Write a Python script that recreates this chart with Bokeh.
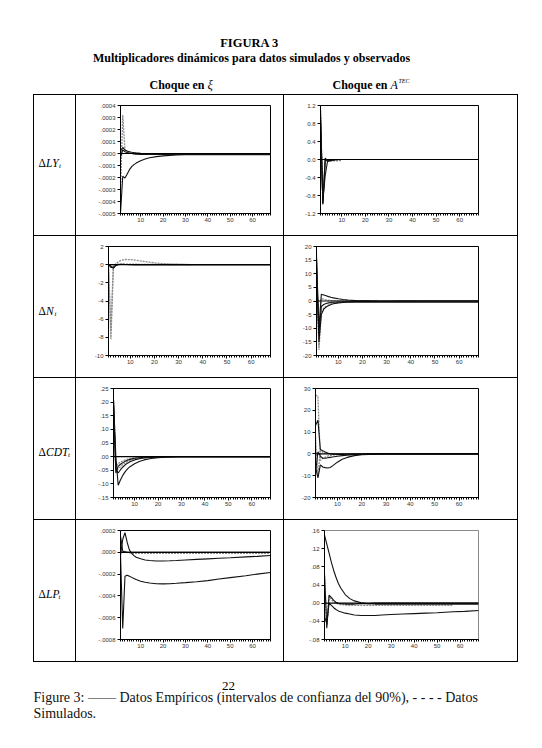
from bokeh.plotting import figure
from bokeh.layouts import row, column
from bokeh.models import Range1d, FixedTicker, CustomJSTickFormatter, Span, Spacer
from bokeh.core.properties import value
from bokeh.embed import file_html
from bokeh.resources import INLINE

nan = float("nan")

# ---------------- data ----------------
T = [1, 2, 3, 4, 5, 6, 7, 8, 10, 12, 14, 17, 20, 23, 26, 30, 35, 40, 45, 50, 57, 62, 68]
X_TICKS = [10, 20, 30, 40, 50, 60]

# Panel 1: dLY, shock xi
ly_xi_up = [0.00002, 0.00005, 0.00003, 0.00002, 0.000015, 0.00001, 0.000007, 0.000005, 0.000002, 0.0, -0.000003, -0.000005, -0.000007, -0.000008, -0.000008, -0.000008, -0.000008, -0.000008, -0.000008, -0.000008, -0.000008, -0.000008, -0.000008]
ly_xi_mid = [-0.00003, 0.00003, 0.000015, 0.000008, 0.000003, 0.0, -0.000003, -0.000005, -0.000007, -0.000008, -0.000008, -0.000008, -0.000008, -0.000008, -0.000008, -0.000008, -0.000008, -0.000008, -0.000008, -0.000008, -0.000008, -0.000008, -0.000008]
ly_xi_low = [-0.0005, -0.00019, -0.000205, -0.00017, -0.000135, -0.00011, -0.000093, -0.00008, -0.00006, -0.000046, -0.000036, -0.000026, -0.00002, -0.000016, -0.000013, -0.000011, -0.00001, -0.00001, -0.00001, -0.00001, -0.00001, -0.00001, -0.00001]
ly_xi_sim = [-0.00032, 0.00032, 0.00003, 0.00001, 0.000005, 0.000002, 0.0, -0.000002, -0.000004, -0.000005, -0.000006, -0.000006, -0.000006, -0.000006, -0.000006, -0.000006, -0.000006, -0.000006, -0.000006, -0.000006, -0.000006, -0.000006, -0.000006]
ly_xi_yticks = [0.0004, 0.0003, 0.0002, 0.0001, 0.0, -0.0001, -0.0002, -0.0003, -0.0004, -0.0005]
ly_xi_ylabels = [".0004", ".0003", ".0002", ".0001", ".0000", "-.0001", "-.0002", "-.0003", "-.0004", "-.0005"]

# Panel 2: dLY, shock A^TEC
ly_a_e1 = [1.10, -1.00, -0.02, -0.01, 0.0, 0.0, 0.0, 0.0, 0.0, 0.0, 0.0, 0.0, 0.0, 0.0, 0.0, 0.0, 0.0, 0.0, 0.0, 0.0, 0.0, 0.0, 0.0]
ly_a_e2 = [0.80, -0.92, -0.35, -0.03, -0.02, -0.01, -0.005, 0.0, 0.0, 0.0, 0.0, 0.0, 0.0, 0.0, 0.0, 0.0, 0.0, 0.0, 0.0, 0.0, 0.0, 0.0, 0.0]
ly_a_e3 = [0.95, -0.97, 0.03, -0.04, -0.03, -0.02, -0.01, -0.005, 0.0, 0.0, 0.0, 0.0, 0.0, 0.0, 0.0, 0.0, 0.0, 0.0, 0.0, 0.0, 0.0, 0.0, 0.0]
ly_a_sim = [1.15, -0.98, 0.02, -0.04, -0.035, -0.032, -0.03, -0.028, -0.025, nan, nan, nan, nan, nan, nan, nan, nan, nan, nan, nan, nan, nan, nan]
ly_a_yticks = [1.2, 0.8, 0.4, 0.0, -0.4, -0.8, -1.2]
ly_a_ylabels = ["1.2", "0.8", "0.4", "0.0", "-0.4", "-0.8", "-1.2"]

# Panel 3: dN, shock xi
n_xi_e1 = [0.0, -0.3, -0.3, -0.05, 0.02, 0.03, 0.03, 0.02, 0.02, 0.01, 0.01, 0.0, 0.0, 0.0, 0.0, 0.0, 0.0, 0.0, 0.0, 0.0, 0.0, 0.0, 0.0]
n_xi_e2 = [0.0, -0.15, -0.4, -0.1, 0.0, 0.02, 0.02, 0.02, 0.01, 0.01, 0.0, 0.0, 0.0, 0.0, 0.0, 0.0, 0.0, 0.0, 0.0, 0.0, 0.0, 0.0, 0.0]
n_xi_sim1 = [-0.2, -8.2, -0.3, 0.1, 0.3, 0.45, 0.53, 0.57, 0.56, 0.5, 0.42, 0.3, 0.2, 0.13, 0.08, 0.04, 0.01, nan, nan, nan, nan, nan, nan]
n_xi_sim2 = [-0.1, -7.3, -0.1, 0.05, 0.05, 0.05, 0.05, 0.05, 0.05, 0.05, 0.04, 0.04, 0.03, 0.03, 0.02, 0.02, 0.01, nan, nan, nan, nan, nan, nan]
n_xi_yticks = [2, 0, -2, -4, -6, -8, -10]
n_xi_ylabels = ["2", "0", "-2", "-4", "-6", "-8", "-10"]

# Panel 4: dN, shock A^TEC
n_a_e1 = [15.0, -15.0, -5.0, -3.0, -2.2, -1.7, -1.3, -1.0, -0.7, -0.55, -0.45, -0.4, -0.4, -0.4, -0.4, -0.4, -0.4, -0.4, -0.4, -0.4, -0.4, -0.4, -0.4]
n_a_e2 = [10.0, -12.0, -2.0, -1.3, -0.9, -0.7, -0.55, -0.45, -0.35, -0.3, -0.25, -0.2, -0.15, -0.12, -0.1, -0.08, -0.05, -0.03, -0.02, -0.01, 0.0, 0.0, 0.0]
n_a_e3 = [16.0, -10.0, 2.5, 2.2, 1.9, 1.6, 1.35, 1.15, 0.8, 0.55, 0.38, 0.2, 0.1, 0.05, 0.02, 0.0, 0.0, 0.0, 0.0, 0.0, 0.0, 0.0, 0.0]
n_a_sim1 = [17.5, -18.0, -4.0, -2.6, -1.9, -1.4, -1.1, -0.85, -0.55, -0.38, -0.27, -0.17, -0.1, -0.06, -0.04, nan, nan, nan, nan, nan, nan, nan, nan]
n_a_sim2 = [12.0, -16.5, 1.0, 0.6, 0.4, 0.25, 0.15, 0.1, 0.05, 0.02, 0.0, 0.0, -0.05, -0.08, -0.1, nan, nan, nan, nan, nan, nan, nan, nan]
n_a_yticks = [20, 15, 10, 5, 0, -5, -10, -15, -20]
n_a_ylabels = ["20", "15", "10", "5", "0", "-5", "-10", "-15", "-20"]

# Panel 5: dCDT, shock xi
cdt_xi_e1 = [0.20, -0.06, -0.035, -0.028, -0.022, -0.017, -0.013, -0.010, -0.006, -0.004, -0.002, -0.001, 0.0, 0.0, 0.0, 0.0, 0.0, 0.0, 0.0, 0.0, 0.0, 0.0, 0.0]
cdt_xi_e2 = [0.19, -0.045, -0.06, -0.048, -0.038, -0.030, -0.024, -0.019, -0.012, -0.008, -0.005, -0.003, -0.002, -0.001, 0.0, 0.0, 0.0, 0.0, 0.0, 0.0, 0.0, 0.0, 0.0]
cdt_xi_e3 = [0.21, 0.0, -0.105, -0.085, -0.068, -0.055, -0.045, -0.037, -0.026, -0.018, -0.012, -0.007, -0.004, -0.002, -0.001, 0.0, 0.0, 0.0, 0.0, 0.0, 0.0, 0.0, 0.0]
cdt_xi_sim1 = [0.21, -0.05, -0.045, -0.036, -0.029, -0.023, -0.018, -0.014, -0.009, -0.006, -0.004, -0.002, -0.001, 0.0, 0.0, 0.0, 0.0, 0.0, 0.0, 0.0, 0.0, 0.0, 0.0]
cdt_xi_sim2 = [0.16, -0.035, -0.025, -0.02, -0.016, -0.012, -0.009, -0.007, -0.004, -0.002, -0.001, 0.0, 0.0, 0.0, 0.0, 0.0, 0.0, 0.0, 0.0, 0.0, 0.0, 0.0, 0.0]
cdt_xi_yticks = [0.25, 0.20, 0.15, 0.10, 0.05, 0.0, -0.05, -0.10, -0.15]
cdt_xi_ylabels = [".25", ".20", ".15", ".10", ".05", ".00", "-.05", "-.10", "-.15"]

# Panel 6: dCDT, shock A^TEC
cdt_a_e1 = [13.0, 15.5, 2.0, 1.5, 0.9, 0.4, 0.1, -0.1, -0.2, -0.2, -0.15, -0.1, -0.05, 0.0, 0.0, 0.0, 0.0, 0.0, 0.0, 0.0, 0.0, 0.0, 0.0]
cdt_a_e2 = [-6.0, -11.0, -5.0, -6.0, -6.3, -6.5, -6.2, -5.5, -3.8, -2.5, -1.6, -0.8, -0.4, -0.2, -0.1, 0.0, 0.0, 0.0, 0.0, 0.0, 0.0, 0.0, 0.0]
cdt_a_e3 = [-9.0, 1.0, -1.0, -2.0, -2.0, -1.8, -1.6, -1.4, -1.1, -0.8, -0.6, -0.4, -0.25, -0.15, -0.1, 0.0, 0.0, 0.0, 0.0, 0.0, 0.0, 0.0, 0.0]
cdt_a_sim1 = [27.0, 26.5, -3.0, -2.0, -1.5, -1.0, -0.7, -0.5, -0.35, -0.3, -0.25, -0.2, -0.15, -0.12, -0.1, nan, nan, nan, nan, nan, nan, nan, nan]
cdt_a_sim2 = [8.0, -10.0, 1.5, 0.8, 0.4, 0.2, 0.1, 0.0, 0.0, 0.0, 0.0, 0.0, 0.0, 0.0, 0.0, nan, nan, nan, nan, nan, nan, nan, nan]
cdt_a_yticks = [30, 20, 10, 0, -10, -20]
cdt_a_ylabels = ["30", "20", "10", "0", "-10", "-20"]

# Panel 7: dLP, shock xi
lp_xi_e1 = [-0.00003, 0.00012, 0.00018, 0.00009, 0.00002, -0.00001, -0.00003, -0.000045, -0.00006, -0.00007, -0.000075, -0.00008, -0.00008, -0.000078, -0.000075, -0.00007, -0.000065, -0.00006, -0.000055, -0.00005, -0.000042, -0.000037, -0.00003]
lp_xi_e2 = [0.00015, 0.00001, 0.000005, 0.0, 0.0, 0.0, 0.0, 0.0, 0.0, 0.0, 0.0, 0.0, 0.0, 0.0, 0.0, 0.0, 0.0, 0.0, 0.0, 0.0, 0.0, 0.0, 0.0]
lp_xi_e3 = [-0.00002, -0.0007, -0.00022, -0.00021, -0.00022, -0.00023, -0.00024, -0.00025, -0.000265, -0.000275, -0.000282, -0.000288, -0.00029, -0.000288, -0.000284, -0.000278, -0.00027, -0.00026, -0.000245, -0.000232, -0.000215, -0.0002, -0.000185]
lp_xi_sim = [0.0, 0.00001, 0.000005, 0.0, -0.000005, -0.00001, -0.00001, -0.00001, -0.00001, -0.00001, -0.00001, -0.00001, -0.00001, -0.00001, -0.00001, -0.00001, -0.00001, -0.00001, -0.00001, -0.00001, -0.00001, -0.00001, -0.00001]
lp_xi_yticks = [0.0002, 0.0, -0.0002, -0.0004, -0.0006, -0.0008]
lp_xi_ylabels = [".0002", ".0000", "-.0002", "-.0004", "-.0006", "-.0008"]

# Panel 8: dLP, shock A^TEC
lp_a_e1 = [0.15, 0.13, 0.11, 0.09, 0.072, 0.057, 0.044, 0.034, 0.019, 0.010, 0.005, 0.001, -0.001, -0.002, -0.002, -0.002, -0.002, -0.002, -0.002, -0.002, -0.002, -0.002, -0.002]
lp_a_e2 = [0.065, -0.055, 0.018, 0.012, 0.006, 0.002, 0.0, -0.001, -0.002, -0.002, -0.002, -0.001, -0.001, 0.0, 0.0, 0.0, 0.0, 0.0, 0.0, 0.0, 0.0, 0.0, 0.0]
lp_a_e3 = [-0.03, -0.045, 0.0, -0.005, -0.01, -0.014, -0.017, -0.019, -0.022, -0.024, -0.026, -0.027, -0.027, -0.027, -0.026, -0.025, -0.024, -0.023, -0.022, -0.021, -0.019, -0.018, -0.016]
lp_a_sim = [0.06, -0.05, 0.015, 0.008, 0.003, 0.0, -0.002, -0.003, -0.004, -0.005, -0.005, -0.005, -0.005, -0.005, -0.005, -0.005, -0.005, -0.005, -0.005, -0.005, -0.005, nan, nan]
lp_a_yticks = [0.16, 0.12, 0.08, 0.04, 0.0, -0.04, -0.08]
lp_a_ylabels = [".16", ".12", ".08", ".04", ".00", "-.04", "-.08"]

# ---------------- helpers ----------------
SERIF = "Liberation Serif"
SANS = "Liberation Sans"
ROW_H = [140, 141, 141, 141]
TOP_B = 10
BOT_B = 22
LABEL_W = 41
LEFT_W = 207
RIGHT_W = 233
WHITE = {"background-color": "white"}

LOOKUP = """
let b = 0, d = 1e99;
for (let i = 0; i < tv.length; i++) { const e = Math.abs(tv[i] - tick); if (e < d) { d = e; b = i; } }
return tl[b];
"""


def mini(width, height, bl, br, yticks, ylabels, solids, sims, outline="black"):
    p = figure(width=width, height=height, x_range=Range1d(1, 68),
               y_range=Range1d(min(yticks), max(yticks)),
               toolbar_location=None, output_backend="svg",
               min_border_left=bl, min_border_right=br,
               min_border_top=TOP_B, min_border_bottom=BOT_B, styles=WHITE)
    p.xgrid.visible = False
    p.ygrid.visible = False
    p.outline_line_color = outline
    p.outline_line_width = 1
    p.add_layout(Span(location=0, dimension="width", line_color="black", line_width=1.2))
    for s in sims:
        p.line(T, s, line_color="#8c8c8c", line_width=1.3, line_dash="2 1")
    for s in solids:
        p.line(T, s, line_color="#111111", line_width=1.1)
    xa = p.xaxis[0]
    xa.ticker = FixedTicker(ticks=X_TICKS, minor_ticks=list(range(1, 69)))
    xa.major_tick_in = 0
    xa.major_tick_out = 3
    xa.minor_tick_in = 0
    xa.minor_tick_out = 2
    xa.major_label_standoff = 1
    ya = p.yaxis[0]
    ya.ticker = FixedTicker(ticks=yticks, minor_ticks=[])
    ya.formatter = CustomJSTickFormatter(args=dict(tv=yticks, tl=ylabels), code=LOOKUP)
    ya.major_tick_in = 0
    ya.major_tick_out = 3
    ya.minor_tick_out = 0
    ya.major_label_standoff = 2
    for a in (xa, ya):
        a.axis_line_color = "black"
        a.major_tick_line_color = "black"
        a.minor_tick_line_color = "black"
        a.major_label_text_font = SANS
        a.major_label_text_font_size = "6px"
        a.major_label_text_color = "#333333"
    return p


def label_cell(y_top, height, name, ypos):
    f_top = y_top + TOP_B
    f_bot = y_top + height - BOT_B
    p = figure(width=LABEL_W, height=height, x_range=Range1d(34, 34 + LABEL_W),
               y_range=Range1d(f_bot, f_top), toolbar_location=None,
               output_backend="svg", x_axis_type=None, y_axis_type=None,
               min_border_left=0, min_border_right=0,
               min_border_top=TOP_B, min_border_bottom=BOT_B, styles=WHITE)
    p.outline_line_color = None
    p.xgrid.visible = False
    p.ygrid.visible = False
    p.text(x=[38], y=[ypos], text=["Δ"], text_font=value(SERIF), text_font_size="11.5px",
           text_baseline="middle", text_align="left", text_color="black")
    w = {"LY": 13, "N": 8.5, "CDT": 22, "LP": 12.5}[name]
    p.text(x=[45.5], y=[ypos], text=[name], text_font=value(SERIF), text_font_size="11.5px",
           text_font_style="italic", text_baseline="middle", text_align="left", text_color="black")
    p.text(x=[45.5 + w], y=[ypos + 3], text=["t"], text_font=value(SERIF), text_font_size="7px",
           text_font_style="italic", text_baseline="middle", text_align="left", text_color="black")
    return p


def deco(width, height, x0, y0):
    p = figure(width=width, height=height, x_range=Range1d(x0, x0 + width),
               y_range=Range1d(y0 + height, y0), toolbar_location=None,
               output_backend="svg", x_axis_type=None, y_axis_type=None,
               min_border=0, min_border_left=0, min_border_right=0,
               min_border_top=0, min_border_bottom=0, styles=WHITE)
    p.outline_line_color = None
    p.xgrid.visible = False
    p.ygrid.visible = False
    return p


# ---------------- header ----------------
head = deco(542, 94, 0, 0)
head.text(x=[249], y=[42], text=["FIGURA 3"], text_font=value(SERIF), text_font_size="12.5px",
          text_font_style="bold", text_align="center", text_baseline="middle", text_color="black")
head.text(x=[251], y=[57], text=["Multiplicadores dinámicos para datos simulados y observados"],
          text_font=value(SERIF), text_font_size="12px", text_font_style="bold",
          text_align="center", text_baseline="middle", text_color="black")
head.text(x=[149], y=[84], text=["Choque en"], text_font=value(SERIF), text_font_size="12px",
          text_font_style="bold", text_align="left", text_baseline="middle", text_color="black")
head.text(x=[207], y=[84], text=["ξ"], text_font=value(SERIF), text_font_size="12.5px",
          text_font_style="italic", text_align="left", text_baseline="middle", text_color="black")
head.text(x=[332], y=[84], text=["Choque en"], text_font=value(SERIF), text_font_size="12px",
          text_font_style="bold", text_align="left", text_baseline="middle", text_color="black")
head.text(x=[390], y=[84], text=["A"], text_font=value(SERIF), text_font_size="12px",
          text_font_style="italic", text_align="left", text_baseline="middle", text_color="black")
head.text(x=[398], y=[80], text=["TEC"], text_font=value(SERIF), text_font_size="6px",
          text_font_style="italic", text_align="left", text_baseline="middle", text_color="black")

# ---------------- table ----------------
panels = [
    ("LY", 162, (44, ly_xi_yticks, ly_xi_ylabels, [ly_xi_up, ly_xi_mid, ly_xi_low], [ly_xi_sim]),
     (36, ly_a_yticks, ly_a_ylabels, [ly_a_e1, ly_a_e2, ly_a_e3], [ly_a_sim]), "black"),
    ("N", 310, (32, n_xi_yticks, n_xi_ylabels, [n_xi_e1, n_xi_e2], [n_xi_sim1, n_xi_sim2]),
     (32, n_a_yticks, n_a_ylabels, [n_a_e1, n_a_e2, n_a_e3], [n_a_sim1, n_a_sim2]), "black"),
    ("CDT", 451, (37, cdt_xi_yticks, cdt_xi_ylabels, [cdt_xi_e1, cdt_xi_e2, cdt_xi_e3], [cdt_xi_sim1, cdt_xi_sim2]),
     (31, cdt_a_yticks, cdt_a_ylabels, [cdt_a_e1, cdt_a_e2, cdt_a_e3], [cdt_a_sim1, cdt_a_sim2]), "black"),
    ("LP", 593, (44, lp_xi_yticks, lp_xi_ylabels, [lp_xi_e1, lp_xi_e2, lp_xi_e3], [lp_xi_sim]),
     (40, lp_a_yticks, lp_a_ylabels, [lp_a_e1, lp_a_e2, lp_a_e3], [lp_a_sim]), "#8a8a8a"),
]

rows = []
y_top = 95
for i, (name, ypos, lp, rp, oc) in enumerate(panels):
    h = ROW_H[i]
    lab = label_cell(y_top, h, name, ypos)
    left = mini(LEFT_W, h, lp[0], 13, lp[1], lp[2], lp[3], lp[4])
    right = mini(RIGHT_W, h, rp[0], 39, rp[1], rp[2], rp[3], rp[4], outline=oc)
    rows.append(row(children=[lab, left, right], spacing=1))
    y_top += h + 1

table = column(children=rows, spacing=1,
               styles={"background-color": "black", "padding": "1px"})
mid = row(children=[Spacer(width=33, height=568), table], spacing=0)

# ---------------- footer ----------------
foot = deco(542, 78, 0, 662)
foot.text(x=[228], y=[685], text=["22"], text_font=value(SERIF), text_font_size="13px",
          text_align="center", text_baseline="middle", text_color="black")
foot.text(x=[33], y=[697], text=["Figure 3: —— Datos Empíricos (intervalos de confianza del 90%), - - - - Datos"],
          text_font=value(SERIF), text_font_size="14px", text_align="left",
          text_baseline="middle", text_color="#111111")
foot.text(x=[33], y=[713], text=["Simulados."], text_font=value(SERIF), text_font_size="14px",
          text_align="left", text_baseline="middle", text_color="#111111")

page = column(children=[head, mid, foot], spacing=0)

open("out.html", "w").write(file_html(page, INLINE))
